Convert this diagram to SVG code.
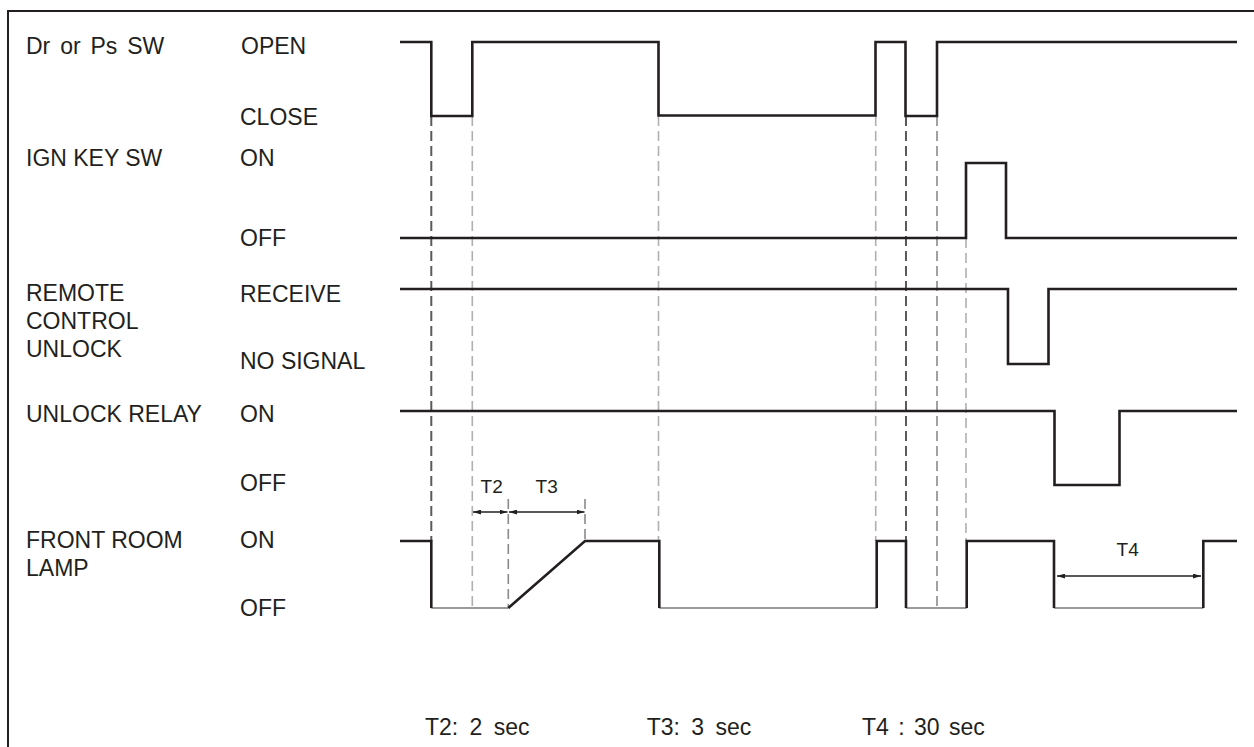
<svg xmlns="http://www.w3.org/2000/svg" width="1254" height="747" viewBox="0 0 1254 747">
<style>
text{font-family:"Liberation Sans",Arial,sans-serif;font-size:23px;fill:#231f20}
.sm{font-size:19px}
.sig{fill:none;stroke:#231f20;stroke-width:2.6;stroke-linejoin:miter;stroke-linecap:butt}
.low{fill:none;stroke:#9a9a9a;stroke-width:2.2}
.g{fill:none;stroke-width:1.6;stroke-dasharray:10 5}
.gl{stroke:#b0b0b0}
.gm{stroke:#8a8a8a}
.gd{stroke:#5a5a5a;stroke-width:2}
.dim{fill:none;stroke:#231f20;stroke-width:1.3}
</style>
<defs>
<marker id="ah" viewBox="0 0 10 6" refX="10" refY="3" markerWidth="8" markerHeight="5" markerUnits="userSpaceOnUse" orient="auto-start-reverse">
<path d="M0,0 L10,3 L0,6 Z" fill="#231f20"/>
</marker>
</defs>
<rect width="1254" height="747" fill="#fff"/>
<path d="M8,747 V11 H1254" fill="none" stroke="#231f20" stroke-width="2"/>

<g id="guides">
<line class="g gd" x1="431.3" y1="116" x2="431.3" y2="541"/>
<line class="g gl" x1="472.3" y1="116" x2="472.3" y2="608"/>
<line class="g gm" x1="508.3" y1="499" x2="508.3" y2="608"/>
<line class="g gm" x1="585" y1="499" x2="585" y2="541"/>
<line class="g gl" x1="658.5" y1="116" x2="658.5" y2="541"/>
<line class="g gl" x1="875.7" y1="116" x2="875.7" y2="541"/>
<line class="g gd" x1="906" y1="116" x2="906" y2="541"/>
<line class="g gm" x1="937" y1="116" x2="937" y2="608"/>
<line class="g gl" x1="966" y1="163" x2="966" y2="541"/>
</g>

<g id="connectors">
<line class="dim" x1="473" y1="512" x2="507.5" y2="512" marker-start="url(#ah)" marker-end="url(#ah)"/>
<line class="dim" x1="509" y1="512" x2="584.5" y2="512" marker-start="url(#ah)" marker-end="url(#ah)"/>
<line class="dim" x1="1057" y1="576" x2="1201" y2="576" marker-start="url(#ah)" marker-end="url(#ah)"/>
</g>

<g id="dr-ps-sw">
<text x="26" y="54" style="word-spacing:3.5px">Dr or Ps SW</text>
<text x="241" y="54">OPEN</text>
<text x="240" y="125">CLOSE</text>
<path class="sig" d="M400,42 H431.3 V116 H472.3 V42 H658.5 V115.5 H875.5 V42 H905.5 V116 H937 V42 H1237"/>
</g>

<g id="ign-key-sw">
<text x="26" y="166">IGN KEY SW</text>
<text x="240" y="166">ON</text>
<text x="240" y="246">OFF</text>
<path class="sig" d="M400,238 H966 V163 H1006 V238 H1237"/>
</g>

<g id="remote-control-unlock">
<text x="26" y="301">REMOTE</text>
<text x="26" y="329">CONTROL</text>
<text x="26" y="357">UNLOCK</text>
<text x="240" y="302">RECEIVE</text>
<text x="240" y="369">NO SIGNAL</text>
<path class="sig" d="M400,289 H1008 V364 H1048.5 V289 H1237"/>
</g>

<g id="unlock-relay">
<text x="26" y="422">UNLOCK RELAY</text>
<text x="240" y="422">ON</text>
<text x="240" y="491">OFF</text>
<path class="sig" d="M400,411 H1054.5 V485 H1119.5 V411 H1237"/>
</g>

<g id="front-room-lamp">
<text x="26" y="548">FRONT ROOM</text>
<text x="26" y="576">LAMP</text>
<text x="240" y="548">ON</text>
<text x="240" y="616">OFF</text>
<path class="low" d="M431.3,608 H508.3 M659.3,608 H876.7 M906,608 H966.7 M1054,608 H1203.3"/>
<path class="sig" d="M400,541 H431.3 V608 M508.3,608 L585,541 H659.3 V608 M876.7,608 V541 H906 V608 M966.7,608 V541 H1054 V608 M1203.3,608 V541 H1237"/>
</g>

<g id="timing-labels">
<text class="sm" x="491.7" y="493" text-anchor="middle">T2</text>
<text class="sm" x="546.7" y="493" text-anchor="middle">T3</text>
<text class="sm" x="1127.7" y="556" text-anchor="middle">T4</text>
</g>

<g id="legend">
<text x="425" y="735" style="word-spacing:5px">T2: 2 sec</text>
<text x="646.7" y="735" style="word-spacing:5px">T3: 3 sec</text>
<text x="862" y="735" style="word-spacing:3px">T4 : 30 sec</text>
</g>
</svg>
